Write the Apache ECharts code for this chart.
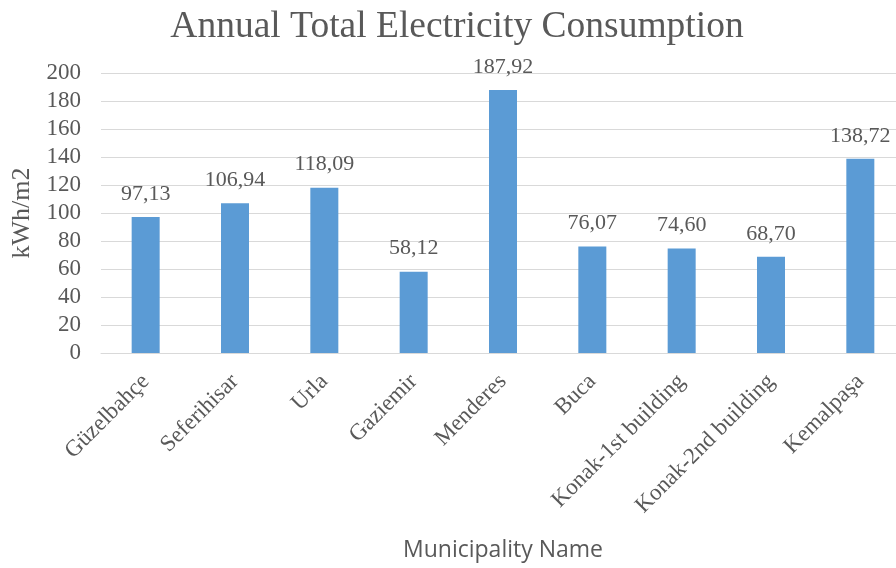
<!DOCTYPE html>
<html>
<head>
<meta charset="utf-8">
<script src="https://cdn.jsdelivr.net/npm/echarts@6/dist/echarts.min.js"></script>
<style>
  html, body { margin: 0; padding: 0; background: #ffffff; }
  #chart { width: 896px; height: 568px; }
</style>
</head>
<body>
<div id="chart"></div>
<script>
// Municipalities and their annual electricity use per floor area
const categories = [
  'Güzelbahçe', 'Seferihisar', 'Urla', 'Gaziemir', 'Menderes',
  'Buca', 'Konak-1st building', 'Konak-2nd building', 'Kemalpaşa'
];
const consumption = [97.13, 106.94, 118.09, 58.12, 187.92, 76.07, 74.60, 68.70, 138.72];
const yTicks = [0, 20, 40, 60, 80, 100, 120, 140, 160, 180, 200];

const serif = '"Liberation Serif", "Times New Roman", serif';
const textGray = '#595959';

const chart = echarts.init(document.getElementById('chart'), null, { renderer: 'canvas' });

chart.setOption({
  animation: false,
  backgroundColor: '#ffffff',
  title: {
    text: 'Annual Total Electricity Consumption',
    left: 452,
    top: 3,
    textAlign: 'center',
    textStyle: { fontFamily: serif, fontSize: 37.5, fontWeight: 'normal', color: textGray }
  },
  grid: {
    left: 101, right: -9, top: 73, bottom: 215,
    containLabel: false,
    outerBoundsMode: 'none'
  },
  xAxis: {
    type: 'category',
    data: categories,
    name: 'Municipality Name',
    nameLocation: 'middle',
    nameGap: 186,
    nameTextStyle: { fontFamily: '"Open Sans", "Liberation Sans", sans-serif', fontSize: 23, color: textGray },
    axisLine: { lineStyle: { color: '#d9d9d9', width: 1 } },
    axisTick: { show: false },
    axisLabel: {
      interval: 0,
      rotate: 45,
      margin: 25,
      fontFamily: serif,
      fontSize: 23,
      color: textGray
    }
  },
  yAxis: {
    type: 'value',
    min: yTicks[0],
    max: yTicks[yTicks.length - 1],
    interval: 20,
    name: 'kWh/m2',
    nameLocation: 'middle',
    nameGap: 64,
    nameRotate: 90,
    nameTextStyle: { fontFamily: serif, fontSize: 26, color: textGray },
    axisLine: { show: false },
    axisTick: { show: false },
    axisLabel: { margin: 20, fontFamily: serif, fontSize: 23, color: textGray },
    splitLine: { lineStyle: { color: '#d9d9d9', width: 1 } }
  },
  series: [{
    type: 'bar',
    data: consumption,
    barWidth: 28,
    itemStyle: { color: '#5b9bd5' },
    label: {
      show: true,
      position: 'top',
      distance: 12,
      fontFamily: serif,
      fontSize: 22,
      color: textGray,
      formatter: p => p.value.toFixed(2).replace('.', ',')
    }
  }]
});
</script>
</body>
</html>
